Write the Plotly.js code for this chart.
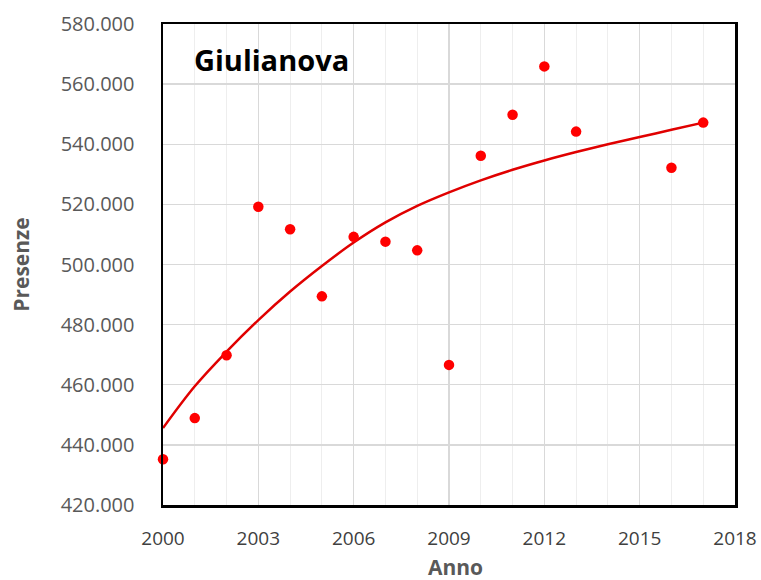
<!DOCTYPE html>
<html>
<head>
<meta charset="utf-8">
<script src="https://cdn.plot.ly/plotly-3.0.1.min.js"></script>
<style>
html,body{margin:0;padding:0;background:#fff;}
#chart{width:761px;height:580px;}
</style>
</head>
<body>
<div id="chart"></div>
<script>
// Observed data (presenze per anno)
const years = [2000, 2001, 2002, 2003, 2004, 2005, 2006, 2007, 2008, 2009, 2010, 2011, 2012, 2013, 2016, 2017];
const presenze = [435200, 448900, 469800, 519200, 511700, 489400, 509200, 507600, 504700, 466600, 536200, 549800, 565900, 544200, 532200, 547200];

// Trend line values
const trendYears = [2000, 2001, 2002, 2003, 2004, 2005, 2006, 2007, 2008, 2009, 2010, 2011, 2012, 2013, 2014, 2015, 2016, 2017];
const trendValues = [445600, 459500, 471000, 481500, 491000, 499500, 507300, 514000, 519500, 524000, 528000, 531500, 534600, 537400, 540000, 542400, 544800, 547200];

const xTicks = [2000, 2003, 2006, 2009, 2012, 2015, 2018];
const yTicks = [420000, 440000, 460000, 480000, 500000, 520000, 540000, 560000, 580000];

const chartTitle = 'Giulianova';
const xTitle = 'Anno';
const yTitle = 'Presenze';

const traces = [
  {
    x: trendYears, y: trendValues, type: 'scatter', mode: 'lines',
    line: {color: '#e00000', width: 2.5, shape: 'spline'},
    hoverinfo: 'skip', showlegend: false
  },
  {
    x: years, y: presenze, type: 'scatter', mode: 'markers',
    marker: {color: '#ff0000', size: 10.5},
    cliponaxis: false, showlegend: false
  }
];

const layout = {
  width: 761, height: 580,
  margin: {l: 163, r: 26, t: 24, b: 75},
  paper_bgcolor: '#ffffff', plot_bgcolor: '#ffffff',
  separators: ',.',
  font: {family: 'Open Sans, sans-serif', color: '#595959'},
  showlegend: false,
  xaxis: {
    range: [2000, 2018], tickvals: xTicks, ticktext: xTicks.map(String),
    showline: true, linecolor: '#000000', linewidth: 2.5, mirror: true,
    showgrid: true, gridcolor: '#d9d9d9', gridwidth: 1.3,
    minor: {dtick: 1, tick0: 2000, showgrid: true, gridcolor: '#eeeeee', gridwidth: 1},
    zeroline: false,
    ticks: 'outside', ticklen: 15, tickcolor: 'rgba(0,0,0,0)',
    tickfont: {size: 19, color: '#404040'}
  },
  yaxis: {
    range: [420000, 580000], tickvals: yTicks, tickformat: ',d',
    showline: true, linecolor: '#000000', linewidth: 2.5, mirror: true,
    showgrid: true, gridcolor: '#d9d9d9', gridwidth: 1.3,
    zeroline: false,
    ticks: 'outside', ticklen: 22, tickcolor: 'rgba(0,0,0,0)',
    tickfont: {size: 20, color: '#595959'},
    title: {text: '<b>' + yTitle + '</b>', font: {size: 21, color: '#595959'}, standoff: 26}
  },
  annotations: [
    {
      text: '<b>' + chartTitle + '</b>', xref: 'x', yref: 'y',
      x: 2000.9, y: 568300, xanchor: 'left', yanchor: 'middle',
      showarrow: false, font: {size: 29, color: '#000000', family: 'Open Sans, sans-serif'}
    },
    {
      text: '<b>' + xTitle + '</b>', xref: 'paper', yref: 'paper',
      x: 0.512, y: -0.128, xanchor: 'center', yanchor: 'middle',
      showarrow: false, font: {size: 21, color: '#595959', family: 'Open Sans, sans-serif'}
    }
  ]
};

Plotly.newPlot('chart', traces, layout, {displayModeBar: false, staticPlot: true});
</script>
</body>
</html>
